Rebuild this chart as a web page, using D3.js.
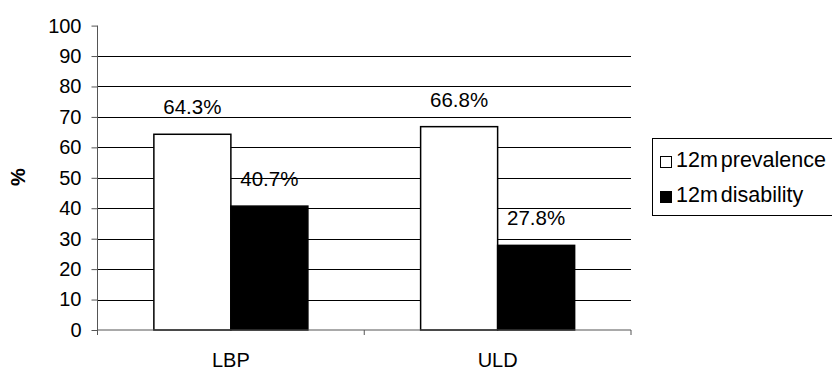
<!DOCTYPE html>
<html>
<head>
<meta charset="utf-8">
<script src="https://cdnjs.cloudflare.com/ajax/libs/d3/7.8.5/d3.min.js"></script>
<style>
  body { margin: 0; background: #fff; }
  svg { display: block; font-family: "Liberation Sans", Arial, sans-serif; }
</style>
</head>
<body>
<svg id="viz"></svg>
<script>
// data
var categories = ["LBP", "ULD"];
var seriesNames = ["12m prevalence", "12m disability"];
var prevalence = [64.3, 66.8];
var disability = [40.7, 27.8];
var yTicks = [0, 10, 20, 30, 40, 50, 60, 70, 80, 90, 100];

var w = 832, h = 368;
var viz = d3.select("#viz").attr("width", w).attr("height", h);

var plotL = 97.5, plotR = 631, plotT = 25.6, plotB = 330;

var x0 = d3.scaleBand().domain(categories).range([plotL, plotR]).padding(0);
var x1 = d3.scaleBand().domain(seriesNames).range([0, x0.bandwidth()])
  .paddingInner(0).paddingOuter(0.732);
var y = d3.scaleLinear().domain([0, 100]).range([plotB, plotT]);

var fills = ["#fff", "#000"];

// gridlines
viz.selectAll("line.grid")
  .data(yTicks.filter(function(d) { return d > 0 && d < 100; }))
  .enter().append("line")
  .attr("class", "grid")
  .attr("x1", plotL).attr("x2", plotR)
  .attr("y1", function(d) { return Math.round(y(d)) + 0.5; })
  .attr("y2", function(d) { return Math.round(y(d)) + 0.5; })
  .attr("stroke", "#000").attr("stroke-width", 1);

// bars
var rows = categories.map(function(c, i) {
  return [
    {cat: c, s: seriesNames[0], v: prevalence[i], k: 0},
    {cat: c, s: seriesNames[1], v: disability[i], k: 1}
  ];
});

var groups = viz.selectAll("g.cat")
  .data(rows)
  .enter().append("g")
  .attr("class", "cat")
  .attr("transform", function(d, i) { return "translate(" + x0(categories[i]) + ",0)"; });

groups.selectAll("rect")
  .data(function(d) { return d; })
  .enter().append("rect")
  .attr("x", function(d) { return x1(d.s); })
  .attr("width", x1.bandwidth())
  .attr("y", function(d) { return y(d.v); })
  .attr("height", function(d) { return y(0) - y(d.v); })
  .attr("fill", function(d) { return fills[d.k]; })
  .attr("stroke", "#000")
  .attr("stroke-width", 1.5);

groups.selectAll("text")
  .data(function(d) { return d; })
  .enter().append("text")
  .attr("x", function(d) { return x1(d.s) + x1.bandwidth() / 2; })
  .attr("y", function(d) { return y(d.v) - 20; })
  .attr("text-anchor", "middle")
  .attr("font-size", "20.5px")
  .text(function(d) { return d.v.toFixed(1) + "%"; });

// y axis
var yAxis = d3.axisLeft(y).tickValues(yTicks).tickSize(6).tickPadding(10);
var gy = viz.append("g").attr("transform", "translate(" + plotL + ",0)").call(yAxis);
gy.select(".domain").attr("stroke", "#555").attr("d", "M0," + (plotB + 5) + "V" + plotT);
gy.selectAll(".tick line").attr("stroke", "#555");
gy.selectAll(".tick text").attr("font-size", "20px").attr("fill", "#000")
  .attr("font-family", "Liberation Sans, Arial, sans-serif");

// x axis
var xAxis = d3.axisBottom(x0).tickSize(0).tickPadding(22.5);
var gx = viz.append("g").attr("transform", "translate(0," + plotB + ")").call(xAxis);
gx.select(".domain").attr("stroke", "#555").attr("d", "M" + plotL + ",0H" + plotR);
gx.selectAll(".tick text").attr("font-size", "20px").attr("fill", "#000")
  .attr("font-family", "Liberation Sans, Arial, sans-serif");

// category boundary ticks
var bounds = categories.map(function(c) { return x0(c); }).concat([plotR]);
viz.selectAll("line.xtick")
  .data(bounds)
  .enter().append("line")
  .attr("class", "xtick")
  .attr("x1", function(d) { return d; }).attr("x2", function(d) { return d; })
  .attr("y1", plotB).attr("y2", plotB + 5)
  .attr("stroke", "#555");

// y title
viz.append("text")
  .attr("transform", "translate(25,177) rotate(-90)")
  .attr("text-anchor", "middle")
  .attr("font-size", "20px")
  .attr("font-weight", "bold")
  .text("%");

// legend
var lg = viz.append("g");
lg.append("rect")
  .attr("x", 652.5).attr("y", 138.5)
  .attr("width", 190).attr("height", 77)
  .attr("fill", "#fff").attr("stroke", "#000");

var items = lg.selectAll("g.item")
  .data(seriesNames)
  .enter().append("g")
  .attr("class", "item")
  .attr("transform", function(d, i) { return "translate(660," + (156 + i * 35) + ")"; });

items.append("rect")
  .attr("x", 0.5).attr("y", 0.5)
  .attr("width", 11).attr("height", 11)
  .attr("fill", function(d, i) { return fills[i]; })
  .attr("stroke", "#000");

items.append("text")
  .attr("x", 16).attr("y", 11)
  .attr("font-size", "21.5px")
  .attr("word-spacing", "-3px")
  .text(function(d) { return d; });
</script>
</body>
</html>
